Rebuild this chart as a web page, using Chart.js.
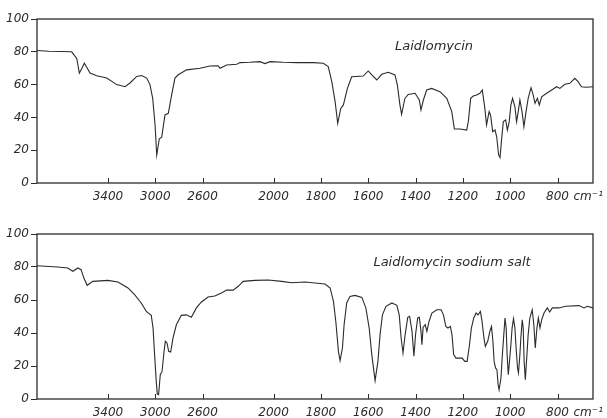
<html>
  <head>
    <title>Laidlomycin IR</title>
    <style>
      body { margin: 0; background: #fff; }
      canvas { display: block; }
    </style>
  </head>
  <body>
    <canvas id="topChart" width="607" height="209"></canvas>
    <canvas id="bottomChart" width="607" height="209"></canvas>
  </body>
</html>

<script src="https://cdn.jsdelivr.net/npm/chart.js"></script>
<script>
  // wavenumbers (cm-1) and % transmittance
  var wnTop = [4000,3900,3800,3707,3664,3642,3620,3600,3575,3552,3495,3411,3326,3256,3214,3157,3115,3073,3045,3022,
    3002,2988,2966,2946,2918,2890,2862,2834,2806,2735,2622,2538,2470,2453,2397,2312,2284,2200,2115,2073,
    2030,1960,1902,1832,1790,1769,1754,1740,1729,1716,1705,1688,1670,1621,1600,1585,1564,1543,1515,1487,
    1477,1466,1459,1445,1431,1402,1384,1377,1367,1353,1332,1297,1268,1247,1236,1212,1184,1177,1167,1156,
    1142,1128,1118,1107,1100,1089,1083,1074,1064,1057,1049,1043,1036,1029,1019,1012,1004,997,990,980,
    973,966,959,950,942,933,924,912,903,895,885,877,867,846,818,804,790,769,748,727,
    713,699,678,650];
  var tTop = [80.8,80.3,80.2,80,76,67,70,73,70,67,65.4,64,60,58.7,61,65,65.5,64,60,51.6,
    35.4,17,27,28,41.5,42.5,53.6,64,66,69,70,71.3,71.5,70,72,72.4,73.4,73.6,74,72.8,
    74,73.6,73.4,73.4,73,71,61.8,49.6,36.4,45.5,47.6,57.7,64.8,65.2,68.3,65.9,62.8,66.3,67.5,65.9,
    59.8,47.6,41.9,51.6,54,54.7,50.6,44.5,50.6,56.7,57.7,55.7,51.6,43.5,33,32.9,32.3,37.4,51.6,53,
    53.7,54.7,56.7,45.5,35.4,43.5,41.5,31.3,32.3,28.2,17.1,15.5,27.2,37.4,38.4,32.3,37.4,47.6,51.6,46.5,
    37.4,43.5,50.6,43.5,34.3,43.5,51.6,58.1,53.7,48.6,51.6,47.6,52.6,54.7,57.3,58.7,57.7,60.2,60.8,63.8,
    61.8,58.7,58.4,58.7];

  var wnBottom = [4000,3825,3740,3697,3655,3627,3604,3576,3528,3401,3316,3231,3175,3119,3076,3034,3019,3006,2992,2983,
    2972,2958,2943,2926,2915,2901,2887,2870,2850,2822,2780,2737,2695,2653,2610,2554,2497,2441,2398,2342,
    2299,2257,2158,2045,1966,1924,1867,1825,1783,1761,1747,1737,1726,1719,1709,1702,1691,1677,1656,1627,
    1610,1596,1585,1571,1559,1550,1540,1525,1500,1479,1469,1461,1453,1444,1433,1425,1415,1407,1400,1391,
    1384,1377,1373,1368,1359,1352,1343,1331,1310,1292,1282,1272,1263,1253,1246,1239,1229,1203,1192,1182,
    1172,1164,1154,1144,1136,1126,1119,1111,1105,1095,1086,1079,1073,1068,1062,1056,1051,1047,1039,1034,
    1027,1022,1017,1013,1008,1003,997,992,986,980,975,969,965,959,955,949,945,941,936,931,
    924,917,907,900,894,887,881,874,867,857,843,833,822,794,766,709,688,674,650];
  var tBottom = [80.8,80,79.4,77.4,79.4,78.4,73.3,68.9,71.3,71.9,70.9,67.3,63.2,58.2,53.1,50.7,43,26.9,10.7,3,
    2.6,14.7,16.7,28.9,35,34,28.9,28.5,37,45,50.7,51,49.5,55.2,58.8,61.8,62.4,64.2,66,66,
    68.3,71.3,71.9,72.1,71.3,70.5,70.9,70.3,69.7,67.3,59.2,47,28.9,23.2,30.9,45,58.2,62.2,62.8,61.6,
    55.2,43,26.9,11.1,22.8,39,51,56.2,58.2,56.8,51,37,27.9,39,49.5,50.1,41,25.9,39,49.1,
    49.5,41,32.9,43.5,45,41,47,52.1,54.1,54.1,51,44,43,44,39,26.9,24.8,24.8,22.8,22.8,
    32.9,43,49.1,52.1,51,53.1,47,37,31.9,35,41,44,35,22.8,18.8,17.8,8.7,5.6,12.7,24.8,
    39,49.1,43,26.9,14.7,22.8,32.9,43,48.7,43,30.9,18.8,15.8,26.9,37,48,43,22.8,11.7,22.8,
    39,49.1,54.1,45,30.9,43,49.1,43,48,52.1,55.2,52.7,55.2,55.2,56.2,56.6,55.2,56.2,55.2];

  var tickWn = [3400, 3000, 2600, 2000, 1800, 1600, 1400, 1200, 1000, 800];

  // grating change at 2000 cm-1: below it the scale is twice as wide
  function pos(w) {
    return w >= 2000 ? 4000 - w : 2000 + 2 * (2000 - w);
  }

  function points(wn, t) {
    var out = [];
    for (var i = 0; i < wn.length; i++) out.push({x: pos(wn[i]), y: t[i]});
    return out;
  }

  const ink = '#2b2b2b';
  const tickFont = {family: 'DejaVu Sans', size: 12, style: 'italic'};

  const framePlugin = {
    id: 'frame',
    afterDraw(chart) {
      const c = chart.ctx, a = chart.chartArea, xs = chart.scales.x;
      c.save();
      c.strokeStyle = ink;
      c.lineWidth = 1.3;
      c.strokeRect(a.left, a.top, a.right - a.left, a.bottom - a.top);
      // inward tick marks on the wavenumber axis
      c.lineWidth = 1;
      tickWn.forEach(function(w) {
        var px = Math.round(xs.getPixelForValue(pos(w))) + 0.5;
        c.beginPath();
        c.moveTo(px, a.bottom);
        c.lineTo(px, a.bottom - 5);
        c.stroke();
      });
      // unit after the last label
      c.fillStyle = ink;
      c.font = 'italic 12px "DejaVu Sans"';
      c.textBaseline = 'middle';
      var px800 = xs.getPixelForValue(pos(800));
      c.fillText('cm\u207B\u00B9', px800 + 16, a.bottom + 14);
      // sample name
      c.font = 'italic 13px "DejaVu Sans"';
      c.textAlign = 'center';
      c.textBaseline = 'alphabetic';
      var o = chart.options.plugins.frame;
      c.fillText(o.title, o.titleX, a.top + o.titleDy);
      c.restore();
    }
  };

  function makeChart(id, wn, t, title, titleX, titleDy, padTop, axisH) {
    const ctx = document.getElementById(id).getContext('2d');
    return new Chart(ctx, {
      type: 'line',
      data: {
        datasets: [{
          data: points(wn, t),
          borderColor: ink,
          borderWidth: 1.1,
          pointRadius: 0,
          tension: 0,
          fill: false
        }]
      },
      options: {
        responsive: false,
        animation: false,
        layout: {padding: {left: 0, right: 14, top: padTop, bottom: 0}},
        plugins: {
          legend: {display: false},
          tooltip: {enabled: false},
          frame: {title: title, titleX: titleX, titleDy: titleDy}
        },
        scales: {
          x: {
            type: 'linear',
            min: 0,
            max: pos(650),
            afterBuildTicks: function(scale) {
              scale.ticks = tickWn.map(function(w) { return {value: pos(w)}; });
            },
            afterFit: function(scale) { scale.height = axisH; },
            grid: {display: false, tickLength: 0},
            border: {display: false},
            ticks: {
              autoSkip: false,
              maxRotation: 0,
              padding: 7,
              color: ink,
              font: tickFont,
              callback: function(v, i) { return String(tickWn[i]); }
            }
          },
          y: {
            min: 0,
            max: 100,
            afterFit: function(scale) { scale.width = 37; },
            grid: {drawOnChartArea: false, tickLength: 6, color: ink},
            border: {display: false},
            ticks: {stepSize: 20, padding: 2, color: ink, font: tickFont}
          }
        }
      },
      plugins: [framePlugin]
    });
  }

  makeChart('topChart', wnTop, tTop, 'Laidlomycin', 434, 31, 19, 26);
  makeChart('bottomChart', wnBottom, tBottom, 'Laidlomycin sodium salt', 452, 32, 25, 19);
</script>
